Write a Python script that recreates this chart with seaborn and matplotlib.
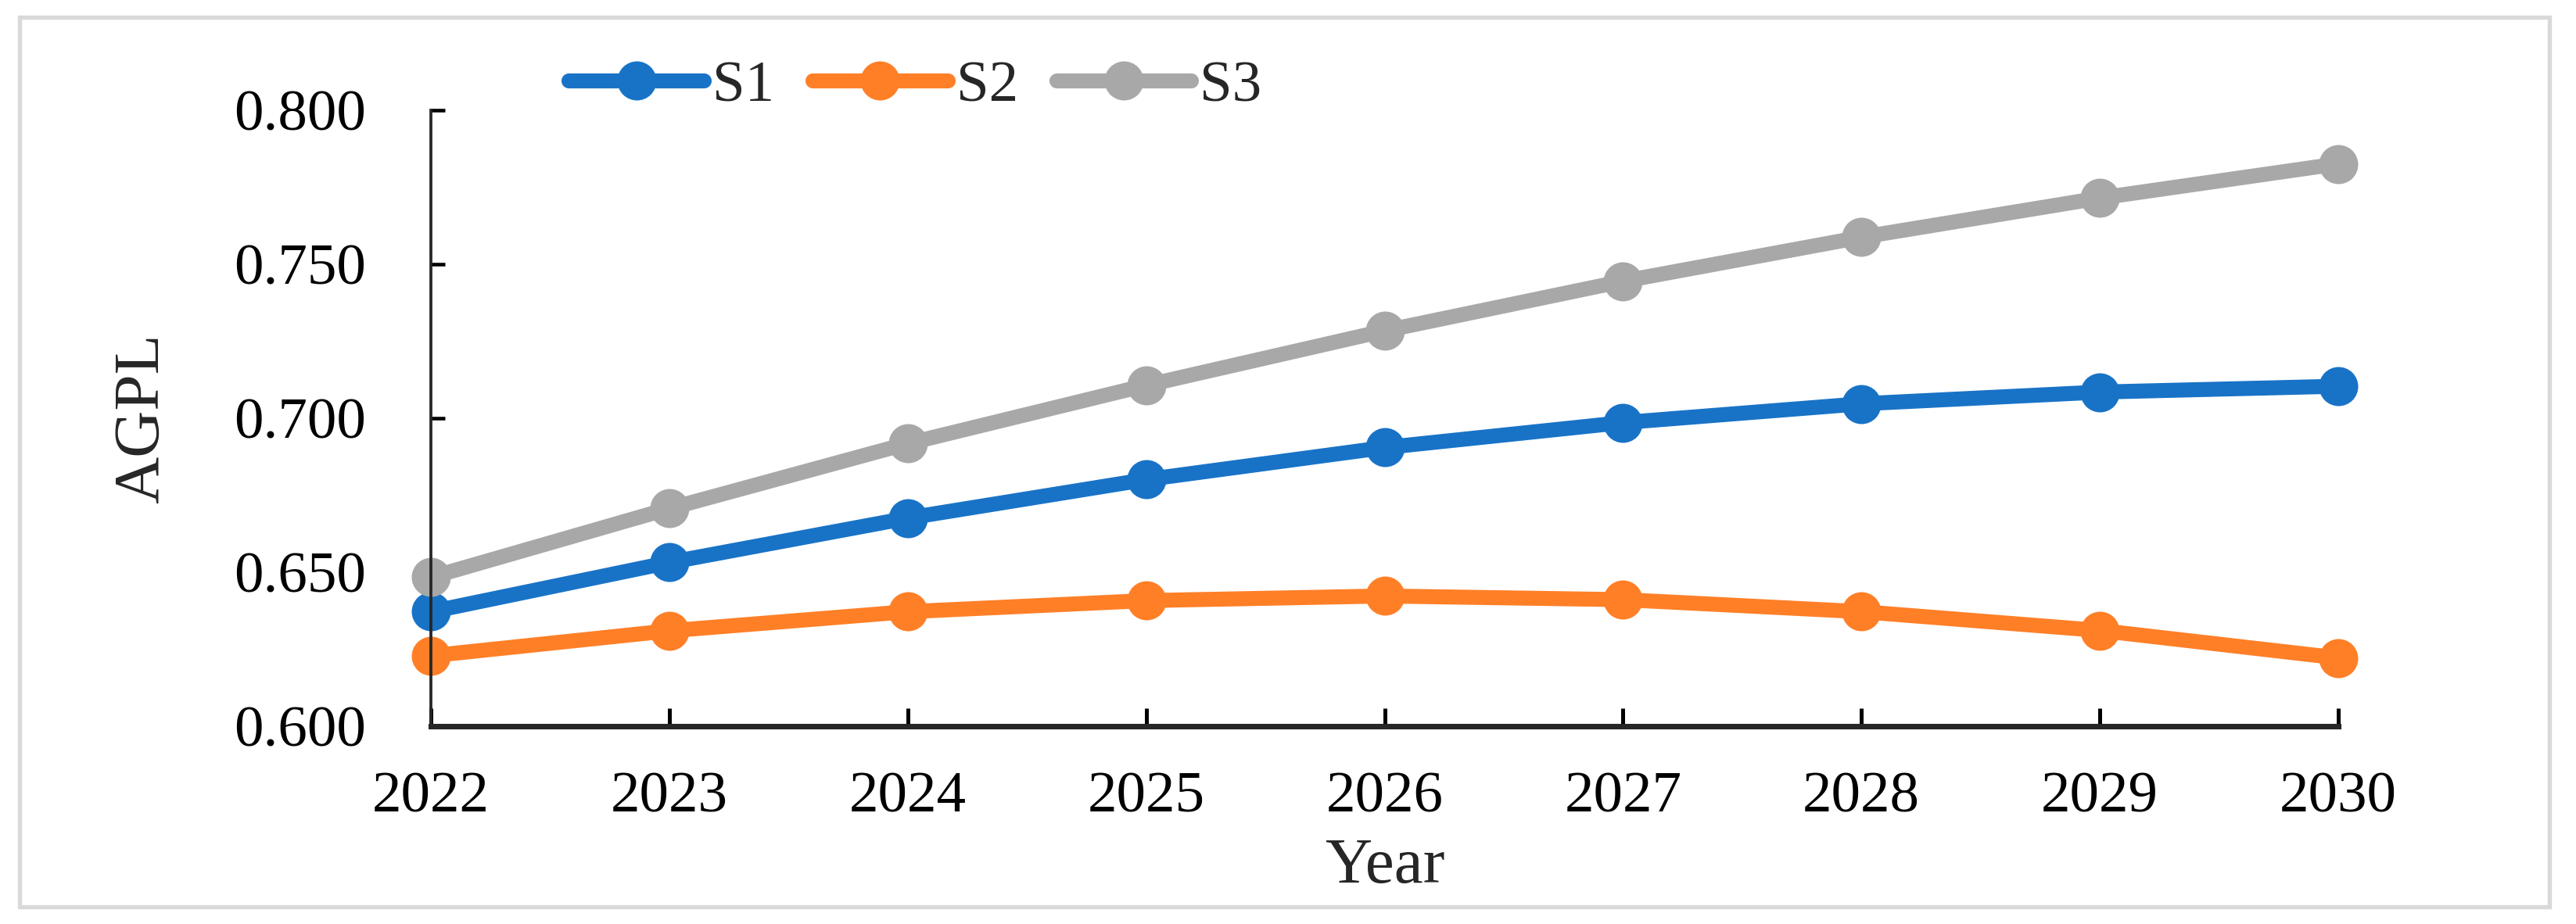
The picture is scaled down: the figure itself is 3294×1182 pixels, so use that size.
import pandas as pd
import matplotlib.pyplot as plt
import seaborn as sns
from matplotlib.patches import Rectangle
from matplotlib.ticker import FormatStrFormatter

years = [2022, 2023, 2024, 2025, 2026, 2027, 2028, 2029, 2030]
s1 = [0.6372, 0.6532, 0.6676, 0.6801, 0.6905, 0.6986, 0.7047, 0.7085, 0.7104]
s2 = [0.6229, 0.6310, 0.6372, 0.6408, 0.6423, 0.6411, 0.6372, 0.6311, 0.6222]
s3 = [0.6484, 0.6707, 0.6918, 0.7107, 0.7284, 0.7445, 0.7588, 0.7715, 0.7826]
series_names = ['S1', 'S2', 'S3']
colors = ['#1873C7', '#FF7F27', '#A8A8A8']


def show_agpl_lines():
    df = pd.DataFrame({'Year': years * 3,
                       'AGPL': s1 + s2 + s3,
                       'Scenario': [n for n in series_names for _ in years]})

    sns.set_style('ticks')
    plt.rcParams['font.family'] = ['Liberation Serif', 'DejaVu Serif']

    fig = plt.figure(figsize=(10.98, 3.94), dpi=300)
    ax = fig.add_axes([0.1673, 0.214, 0.7404, 0.6667])

    # light grey frame round the whole picture
    fig.patches.append(Rectangle((0.0075, 0.0186), 0.9822, 0.963,
                                 transform=fig.transFigure, fill=False,
                                 edgecolor='#D9D9D9', linewidth=1.3))

    sns.lineplot(data=df, x='Year', y='AGPL', hue='Scenario',
                 palette=colors, marker='o', markersize=12,
                 markeredgewidth=0, linewidth=4.6, ax=ax, clip_on=False)

    ax.set_xlim(2022, 2030)
    ax.set_ylim(0.6, 0.8)
    ax.set_xticks(years)
    ax.set_yticks([0.60, 0.65, 0.70, 0.75, 0.80])
    ax.yaxis.set_major_formatter(FormatStrFormatter('%.3f'))

    sns.despine(ax=ax)
    ax.spines['bottom'].set_linewidth(1.7)
    ax.spines['left'].set_linewidth(0.9)
    ax.tick_params(axis='x', direction='in', length=5.5, width=1.2,
                   labelsize=18, pad=14, colors='black')
    ax.tick_params(axis='y', direction='in', length=4.2, width=1.1,
                   labelsize=18, pad=20, colors='black')

    ax.set_xlabel('Year', fontsize=20, labelpad=4)
    ax.set_ylabel('AGPL', fontsize=20, labelpad=19)

    ax.legend(loc='center', bbox_to_anchor=(0.254, 1.038), ncol=3,
              frameon=False, fontsize=18, handlelength=2.3,
              handletextpad=0.15, columnspacing=0.65, borderaxespad=0)

    fig.savefig('out.png', dpi=300)


if __name__ == '__main__':
    show_agpl_lines()
